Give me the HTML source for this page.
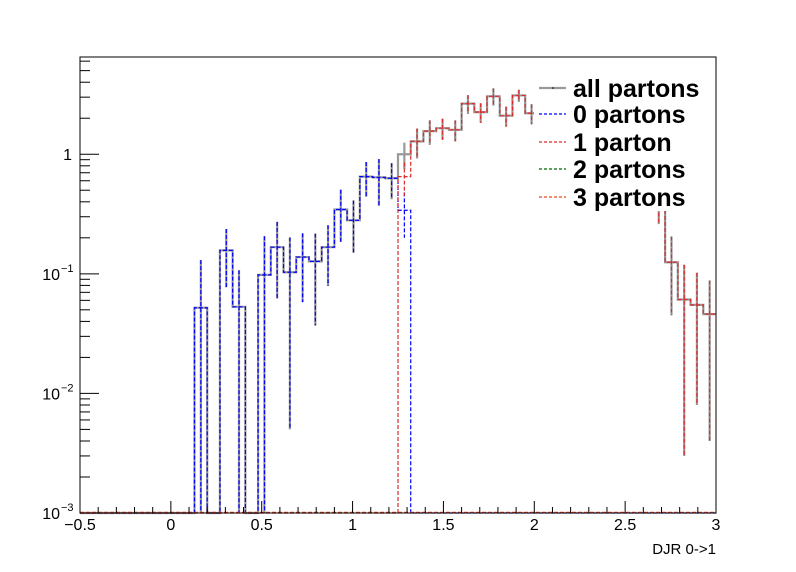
<!DOCTYPE html>
<html><head><meta charset="utf-8"><style>
html,body{margin:0;padding:0;background:#fff}
svg{display:block;font-family:"Liberation Sans",sans-serif}
</style></head><body>
<svg id="chart" width="796" height="572" viewBox="0 0 796 572" xmlns="http://www.w3.org/2000/svg">
<rect x="0" y="0" width="796" height="572" fill="#fff"/>
<g id="marks"></g>
<g id="axes"></g>
<g id="legend"></g>
</svg>
<script>
// data (50 bins, -0.5 .. 3, width 0.07)
const allValues=[0,0,0,0,0,0,0,0,0,0.052,0,0.157,0.053,0,0.098,0.167,0.103,0.138,0.127,0.167,0.345,0.28,0.65,0.64,0.63,1.0,1.28,1.56,1.65,1.6,2.65,2.25,3.05,2.1,3.1,2.2,2.0,1.8,1.5,1.3,1.1,0.9,0.75,0.6,0.5,0.42,0.125,0.061,0.055,0.046];
const allErrors=[0,0,0,0,0,0,0,0,0,0.078,0,0.08,0.054,0,0.108,0.105,0.098,0.08,0.09,0.088,0.16,0.13,0.21,0.27,0.21,0.25,0.36,0.36,0.33,0.32,0.47,0.42,0.5,0.4,0.36,0.42,0.35,0.3,0.28,0.25,0.2,0.18,0.15,0.12,0.1,0.16,0.08,0.058,0.047,0.042];
const p0Values=[0,0,0,0,0,0,0,0,0,0.052,0,0.157,0.053,0,0.098,0.167,0.103,0.138,0.127,0.167,0.345,0.28,0.65,0.64,0.63,0.34,0,0,0,0,0,0,0,0,0,0,0,0,0,0,0,0,0,0,0,0,0,0,0,0];
const p0Errors=[0,0,0,0,0,0,0,0,0,0.078,0,0.08,0.054,0,0.108,0.105,0.098,0.08,0.09,0.088,0.16,0.13,0.21,0.27,0.21,0.14,0,0,0,0,0,0,0,0,0,0,0,0,0,0,0,0,0,0,0,0,0,0,0,0];
const p1Values=[0,0,0,0,0,0,0,0,0,0,0,0,0,0,0,0,0,0,0,0,0,0,0,0,0,0.65,1.28,1.56,1.65,1.6,2.65,2.25,3.05,2.1,3.1,2.2,2.0,1.8,1.5,1.3,1.1,0.9,0.75,0.6,0.5,0.42,0.125,0.061,0.055,0.046];
const p1Errors=[0,0,0,0,0,0,0,0,0,0,0,0,0,0,0,0,0,0,0,0,0,0,0,0,0,0.2,0.36,0.36,0.33,0.32,0.47,0.42,0.5,0.4,0.36,0.42,0.35,0.3,0.28,0.25,0.2,0.18,0.15,0.12,0.1,0.16,0.08,0.058,0.047,0.042];
const xTicks=[-0.5,0,0.5,1,1.5,2,2.5,3];
const xTickLabels=["\u22120.5","0","0.5","1","1.5","2","2.5","3"];
const legendLabels=["all partons","0 partons","1 parton","2 partons","3 partons"];

const NS="http://www.w3.org/2000/svg";
const L=80,R=716,T=57,B=513;
const xMin=-0.5,xMax=3,binW=0.07;
const yMinLog=-3,yMaxLog=Math.log10(6.5);
function X(v){return L+(v-xMin)/(xMax-xMin)*(R-L);}
function Y(v){if(v<=0)return B;const l=Math.log10(v);return B-(l-yMinLog)/(yMaxLog-yMinLog)*(B-T);}
function mk(tag,attrs,parent){const e=document.createElementNS(NS,tag);for(const k in attrs)e.setAttribute(k,attrs[k]);parent.appendChild(e);return e;}
const marks=document.getElementById('marks'),axes=document.getElementById('axes'),leg=document.getElementById('legend');

function histPath(vals){
  let d="M"+X(xMin)+","+Y(vals[0]);
  for(let i=0;i<vals.length;i++){
    const x1=X(xMin+(i+1)*binW);
    d+=" H"+x1;
    if(i+1<vals.length)d+=" V"+Y(vals[i+1]);
  }
  return d;
}
function errPath(vals,errs){
  let d="";
  for(let i=0;i<vals.length;i++){
    if(vals[i]<=0)continue;
    const xc=X(xMin+(i+0.5)*binW);
    const lo=vals[i]-errs[i],hi=vals[i]+errs[i];
    d+="M"+xc+","+Y(hi)+" V"+(lo>0?Y(lo):B)+" ";
  }
  return d;
}
function drawSeries(name,vals,errs,color,width,dash){
  const g=mk('g',{},marks);
  
  
  const h=mk('path',{d:histPath(vals),fill:'none',stroke:color,'stroke-width':width},g);
  if(dash)h.setAttribute('stroke-dasharray',dash);
  
  
  const e=mk('path',{d:errPath(vals,errs),fill:'none',stroke:color,'stroke-width':width},g);
  if(dash)e.setAttribute('stroke-dasharray',dash);
  
  
}
drawSeries('all-partons',allValues,allErrors,'#999999',2.2,null);
drawSeries('0-partons',p0Values,p0Errors,'#0000ff',1.2,'4,2');
drawSeries('1-parton',p1Values,p1Errors,'#dd2a2a',1.2,'4,2');
const zl=mk('line',{x1:L,y1:B-0.5,x2:R,y2:B-0.5,stroke:'#ee4422','stroke-width':1.5,'stroke-dasharray':'4,2'},marks);



// frame
const fr=mk('rect',{x:L,y:T,width:R-L,height:B-T,fill:'none',stroke:'#000','stroke-width':1},axes);


for(let k=0;k<=35;k++){
  const v=xMin+k*0.1;const x=X(v);
  const major=(k%5===0);
  mk('line',{x1:x,y1:B,x2:x,y2:B-(major?12:6),stroke:'#000','stroke-width':1},axes);
}
xTicks.forEach((v,i)=>{
  const t=mk('text',{x:X(v),y:530,'font-size':16,'text-anchor':'middle',fill:'#000'},axes);
  t.textContent=xTickLabels[i];
  
  
});
const xt=mk('text',{x:R,y:554,'font-size':15,'text-anchor':'end',fill:'#000'},axes);
xt.textContent="DJR 0->1";


for(let d=-3;d<=0;d++){
  for(let m=1;m<=9;m++){
    const v=m*Math.pow(10,d);
    if(v>6.5)break;
    const y=Y(v);
    mk('line',{x1:L,y1:y,x2:L+(m===1?19:10),y2:y,stroke:'#000','stroke-width':1},axes);
  }
}
[-3,-2,-1].forEach(d=>{
  const t=mk('text',{x:60,y:Y(Math.pow(10,d))+6,'font-size':16,'text-anchor':'end',fill:'#000'},axes);
  t.textContent="10";
  
  
  const s=mk('text',{x:61,y:Y(Math.pow(10,d))-2,'font-size':11,'text-anchor':'start',fill:'#000'},axes);
  s.textContent="\u2212"+(-d);
  
  
});
const one=mk('text',{x:72,y:Y(1)+6,'font-size':16,'text-anchor':'end',fill:'#000'},axes);
one.textContent="1";



// legend
const lb=mk('rect',{x:534,y:70,width:180,height:141,fill:'#fff'},leg);


const legColors=['#999999','#0000ff','#dd2a2a','#006600','#ee4422'];
const rowY=[88,114,142,169,197];
legendLabels.forEach((lab,i)=>{
  const g=mk('g',{},leg);
  
  
  const ln=mk('line',{x1:539,y1:rowY[i],x2:566,y2:rowY[i],stroke:legColors[i],'stroke-width':i===0?2.2:1.2},g);
  if(i>0)ln.setAttribute('stroke-dasharray','3,2');
  if(i===0)mk('circle',{cx:553,cy:rowY[i],r:0.8,fill:'#000'},g);
  const t=mk('text',{x:573,y:rowY[i]+9,'font-size':25,'font-weight':'bold',fill:'#000'},g);
  t.textContent=lab;
});
</script>
</body></html>
